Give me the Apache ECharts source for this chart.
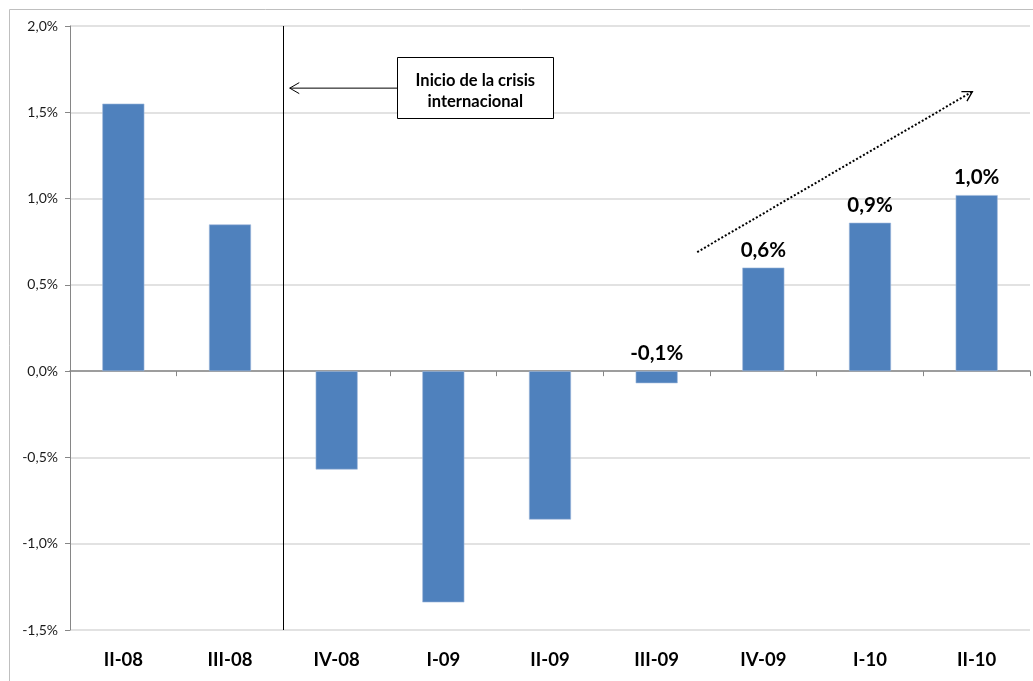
<!DOCTYPE html>
<html>
<head>
<meta charset="utf-8">
<script src="https://cdn.jsdelivr.net/npm/echarts@6/dist/echarts.min.js"></script>
<style>
  html, body { margin: 0; padding: 0; background: #ffffff; }
  #chart { width: 1033px; height: 681px; }
</style>
</head>
<body>
<div id="chart"></div>
<script>
// Quarterly variation, II-08 to II-10 (%)
const quarters = ['II-08', 'III-08', 'IV-08', 'I-09', 'II-09', 'III-09', 'IV-09', 'I-10', 'II-10'];
const variation = [1.55, 0.85, -0.57, -1.34, -0.86, -0.07, 0.60, 0.86, 1.02];
// Which bars carry a value label
const labelled = [false, false, false, false, false, true, true, true, true];
// Value axis range and step
const yMin = -1.5;
const yMax = 2.0;
const yStep = 0.5;

// Annotations, anchored in data space (x: category slots 0..9, y: %)
const crisisBoundary = 2;                       // between III-08 and IV-08
const crisisNote = ['Inicio de la crisis', 'internacional'];
const crisisNoteCenter = [3.80, 1.64];
const crisisArrowTip = [2.06, 1.64];
const trendArrow = { from: [5.88, 0.69], to: [8.46, 1.62] };

const fmt = v => v.toFixed(1).replace('.', ',') + '%';

const FONT = 'Lato, "Open Sans", sans-serif';
const BAR = '#4f81bd';

const chart = echarts.init(document.getElementById('chart'), null, { renderer: 'canvas' });

chart.setOption({
  animation: false,
  backgroundColor: '#ffffff',
  grid: { left: 70, right: 3, top: 26, bottom: 51, containLabel: false },
  xAxis: [
    {
      // axis line and ticks sitting on the zero line
      type: 'category',
      data: quarters,
      position: 'bottom',
      axisLine: { onZero: true, lineStyle: { color: '#868686', width: 1.5 } },
      axisTick: { show: true, inside: false, length: 5, alignWithLabel: false, lineStyle: { color: '#868686' } },
      axisLabel: { show: false },
      splitLine: { show: false }
    },
    {
      // category labels along the bottom of the plot
      type: 'category',
      data: quarters,
      position: 'bottom',
      axisLine: { show: false, onZero: false },
      axisTick: { show: false },
      axisLabel: {
        show: true, margin: 21,
        fontFamily: FONT, fontSize: 18.5, fontWeight: 'bold', color: '#000000'
      },
      splitLine: { show: false }
    },
    {
      // continuous helper axis over the same slots, for annotations
      type: 'value', min: 0, max: quarters.length, show: false
    }
  ],
  yAxis: {
    type: 'value',
    min: yMin, max: yMax, interval: yStep,
    axisLine: { show: true, lineStyle: { color: '#868686', width: 1 } },
    axisTick: { show: true, inside: false, length: 5, lineStyle: { color: '#868686' } },
    axisLabel: {
      margin: 12, fontFamily: FONT, fontSize: 14, color: '#1a1a1a',
      formatter: v => fmt(v)
    },
    splitLine: { show: true, lineStyle: { color: '#d9d9d9', width: 1.5 } }
  },
  series: [{
    type: 'bar',
    xAxisIndex: 0,
    yAxisIndex: 0,
    barWidth: 42,
    itemStyle: { color: BAR, borderColor: '#9fb9dc', borderWidth: 0.6 },
    label: {
      position: 'top', distance: 7,
      fontFamily: FONT, fontSize: 20.5, fontWeight: 'bold', color: '#000000',
      formatter: p => fmt(p.value)
    },
    data: variation.map((v, i) => ({ value: v, label: { show: labelled[i] } })),
    z: 2
  }]
});

// Annotation layer: crisis marker, note box with arrow, and trend arrow
function px(pt) {
  return chart.convertToPixel({ xAxisIndex: 2, yAxisIndex: 0 }, pt);
}
function openHead(tip, from, len, spread) {
  const ang = Math.atan2(from[1] - tip[1], from[0] - tip[0]);
  const a1 = ang + spread, a2 = ang - spread;
  return [
    [tip[0] + len * Math.cos(a1), tip[1] + len * Math.sin(a1)],
    tip,
    [tip[0] + len * Math.cos(a2), tip[1] + len * Math.sin(a2)]
  ];
}

const topL = px([crisisBoundary, yMax]);
const botL = px([crisisBoundary, yMin]);
const noteC = px(crisisNoteCenter);
const boxW = 156, boxH = 61;
const boxX = noteC[0] - boxW / 2, boxY = noteC[1] - boxH / 2 - 1;
const tip = px(crisisArrowTip);
const tailStart = [boxX, tip[1]];
const tStart = px(trendArrow.from);
const tEnd = px(trendArrow.to);

chart.setOption({
  graphic: [
    {
      // outer chart frame
      type: 'rect', silent: true, z: -1,
      shape: { x: 9.5, y: 9.5, width: 1100, height: 700 },
      style: { fill: 'none', stroke: '#bfbfbf', lineWidth: 1 }
    },
    {
      type: 'line', silent: true, z: 10,
      shape: { x1: Math.round(topL[0]) + 0.5, y1: topL[1], x2: Math.round(botL[0]) + 0.5, y2: botL[1] },
      style: { stroke: '#000000', lineWidth: 1 }
    },
    {
      type: 'line', silent: true, z: 10,
      shape: { x1: tailStart[0], y1: tailStart[1], x2: tip[0], y2: tip[1] },
      style: { stroke: '#000000', lineWidth: 1 }
    },
    {
      type: 'polyline', silent: true, z: 10,
      shape: { points: openHead(tip, tailStart, 11, Math.PI / 6) },
      style: { stroke: '#000000', lineWidth: 1, fill: 'none' }
    },
    {
      type: 'rect', silent: true, z: 10,
      shape: { x: Math.round(boxX) + 0.5, y: Math.round(boxY) + 0.5, width: boxW, height: boxH },
      style: { fill: '#ffffff', stroke: '#000000', lineWidth: 1 }
    },
    {
      type: 'text', silent: true, z: 11,
      x: noteC[0], y: noteC[1] + 3,
      style: {
        text: crisisNote.join('\n'),
        fontFamily: FONT, fontSize: 16.5, fontWeight: 'bold', fill: '#000000',
        align: 'center', verticalAlign: 'middle', lineHeight: 21
      }
    },
    {
      type: 'line', silent: true, z: 10,
      shape: { x1: tStart[0], y1: tStart[1], x2: tEnd[0], y2: tEnd[1] },
      style: { stroke: '#000000', lineWidth: 2, lineDash: [2, 2] }
    },
    {
      type: 'polyline', silent: true, z: 10,
      shape: { points: openHead(tEnd, tStart, 11, Math.PI / 6) },
      style: { stroke: '#000000', lineWidth: 1.3, fill: 'none' }
    }
  ]
});
</script>
</body>
</html>
